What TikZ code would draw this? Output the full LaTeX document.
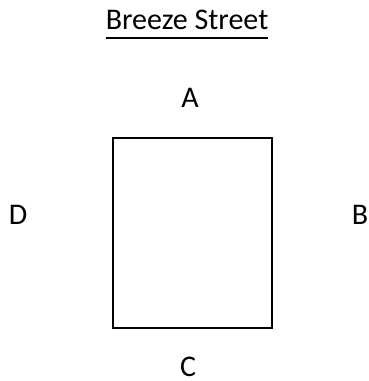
\documentclass[tikz,border=0pt]{standalone}
\usepackage{fontspec}
\setmainfont{Carlito}
\usepackage{tikz}
\usetikzlibrary{positioning}

\begin{document}
\begin{tikzpicture}[
    x=1pt, y=1pt,
    side/.style={
        inner sep=0pt,
        anchor=base,
        font=\fontsize{30}{34}\selectfont
    },
    plot/.style={
        draw,
        line width=2pt
    }
]

\useasboundingbox (0,0) rectangle (368,381);

\node[side] (title) at (187,351) {Breeze Street};
\draw[line width=2pt] ([yshift=-8pt]title.base west) -- ([yshift=-8pt]title.base east);

\node[plot, minimum width=159pt, minimum height=190pt, inner sep=0pt] (lot) at (192.5,147.5) {};

\node[side] (a) at (190,273) {A};
\node[side] (b) at (360,156) {B};
\node[side] (c) at (188,5) {C};
\node[side] (d) at (18,156) {D};

\end{tikzpicture}
\end{document}
